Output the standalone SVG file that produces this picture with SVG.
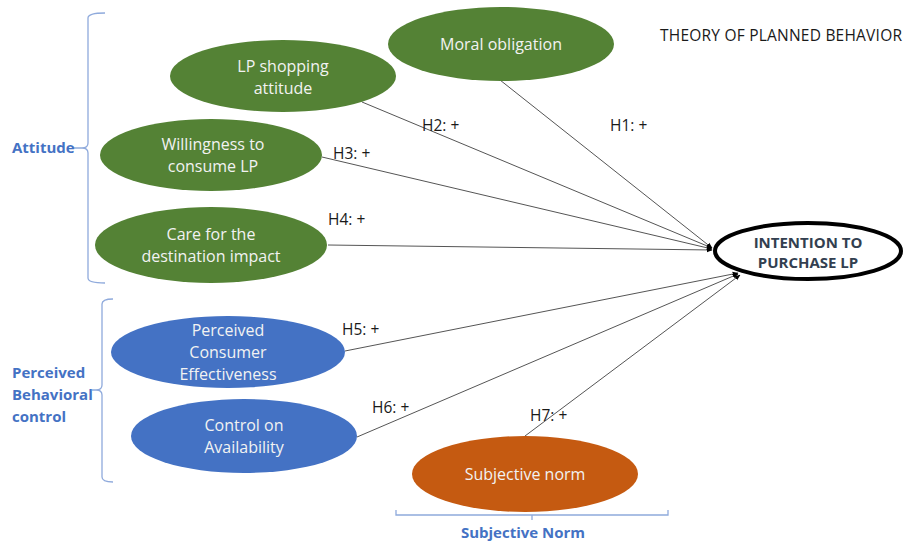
<svg xmlns="http://www.w3.org/2000/svg" width="903" height="545" viewBox="0 0 903 545">
<defs>
<style>
.g{fill:#548235}
.b{fill:#4472c4}
.o{fill:#c55a11}
.nt{font-family:"Open Sans","Liberation Sans",sans-serif;font-size:16px;fill:#f2f2f2;text-anchor:middle}
.lbl{font-family:"Open Sans","Liberation Sans",sans-serif;font-size:15.5px;fill:#1a1a1a}
.grp{font-family:"Open Sans","Liberation Sans",sans-serif;font-size:15px;font-weight:bold;fill:#4472c4}
.br{fill:none;stroke:#8faadc;stroke-width:1.3}
.c{fill:none;stroke:#555;stroke-width:1;marker-end:url(#ah)}
</style>
<marker id="ah" viewBox="0 0 10 10" refX="9" refY="5" markerWidth="6" markerHeight="6" orient="auto" markerUnits="userSpaceOnUse">
<path d="M0,1 L10,5 L0,9 z" fill="#000"/>
</marker>
</defs>
<rect width="903" height="545" fill="#fff"/>

<text x="660" y="41" class="lbl" textLength="242">THEORY OF PLANNED BEHAVIOR</text>

<g id="brackets">
<path class="br" d="M105,13 Q88,13 88,18 L88,143 Q88,148 82,148 L72,148 M82,148 Q88,148 88,153 L88,278 Q88,283 105,283"/>
<path class="br" d="M113,299 Q102,299 102,304 L102,385 Q102,390 96,390 L92,390 M96,390 Q102,390 102,395 L102,477 Q102,482 113,482"/>
<path class="br" d="M396,510 L396,515 L668,515 L668,510 M532,515 L532,520"/>
</g>
<text x="12" y="153" class="grp">Attitude</text>
<text class="grp"><tspan x="12" y="378">Perceived</tspan><tspan x="12" y="400">Behavioral</tspan><tspan x="12" y="422">control</tspan></text>
<text x="523" y="538" class="grp" text-anchor="middle">Subjective Norm</text>

<g id="connectors">
<line class="c" x1="500" y1="80" x2="712" y2="248"/>
<line class="c" x1="362" y1="102" x2="712" y2="248"/>
<line class="c" x1="322" y1="157" x2="712" y2="249"/>
<line class="c" x1="328" y1="245" x2="712" y2="250"/>
<line class="c" x1="345" y1="351" x2="738" y2="273"/>
<line class="c" x1="357" y1="437" x2="738" y2="274"/>
<line class="c" x1="525" y1="436" x2="740" y2="275"/>
<text x="610" y="131" class="lbl">H1: +</text>
<text x="422" y="131" class="lbl">H2: +</text>
<text x="333" y="159" class="lbl">H3: +</text>
<text x="328" y="225" class="lbl">H4: +</text>
<text x="342" y="335" class="lbl">H5: +</text>
<text x="372" y="413" class="lbl">H6: +</text>
<text x="530" y="421" class="lbl">H7: +</text>
</g>

<g id="moral"><ellipse class="g" cx="501" cy="44" rx="113" ry="37"/><text x="501" y="50" class="nt">Moral obligation</text></g>
<g id="lpshop"><ellipse class="g" cx="283" cy="76" rx="113" ry="36"/><text class="nt"><tspan x="283" y="72">LP shopping</tspan><tspan x="283" y="94">attitude</tspan></text></g>
<g id="willing"><ellipse class="g" cx="211" cy="155" rx="111" ry="36"/><text class="nt"><tspan x="213" y="150">Willingness to</tspan><tspan x="213" y="172">consume LP</tspan></text></g>
<g id="care"><ellipse class="g" cx="211" cy="245" rx="116" ry="38"/><text class="nt"><tspan x="211" y="240">Care for the</tspan><tspan x="211" y="262">destination impact</tspan></text></g>
<g id="pce"><ellipse class="b" cx="228" cy="352" rx="117" ry="36"/><text class="nt"><tspan x="228" y="336">Perceived</tspan><tspan x="228" y="358">Consumer</tspan><tspan x="228" y="380">Effectiveness</tspan></text></g>
<g id="control"><ellipse class="b" cx="244" cy="436" rx="113" ry="37"/><text class="nt"><tspan x="244" y="431">Control on</tspan><tspan x="244" y="453">Availability</tspan></text></g>
<g id="subj"><ellipse class="o" cx="525" cy="474" rx="113" ry="38"/><text x="525" y="480" class="nt">Subjective norm</text></g>
<g id="intention"><ellipse cx="808" cy="251" rx="93" ry="28" fill="#fff" stroke="#000" stroke-width="4"/><text text-anchor="middle" font-family="'Open Sans','Liberation Sans',sans-serif" font-size="15" font-weight="bold" fill="#333f50"><tspan x="808" y="248">INTENTION TO</tspan><tspan x="808" y="268">PURCHASE LP</tspan></text></g>
</svg>
